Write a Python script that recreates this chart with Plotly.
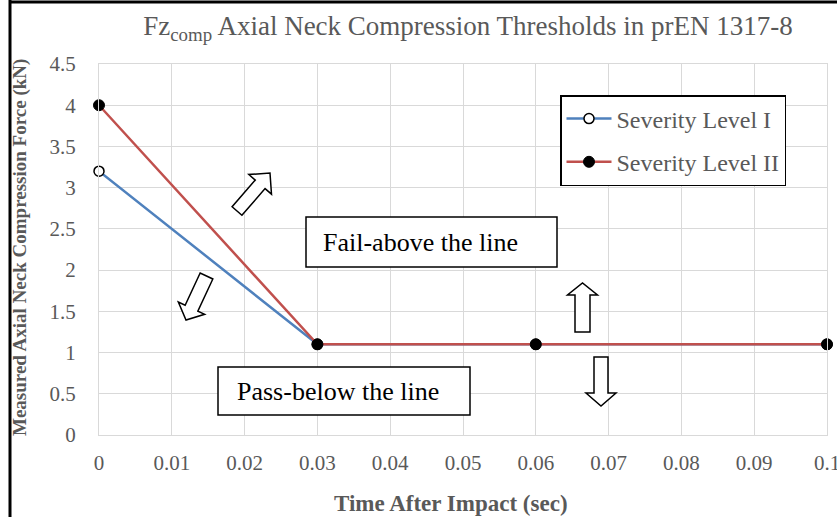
import math
import plotly.graph_objects as go

# ---- data ----
time_sec = [0, 0.03, 0.06, 0.1]
level1_force = [3.2, 1.1, 1.1, 1.1]
level2_force = [4.0, 1.1, 1.1, 1.1]
series_names = ["Severity Level I", "Severity Level II"]
title_text = "Fz<sub>comp</sub> Axial Neck Compression Thresholds in prEN 1317-8"
x_title = "Time After Impact (sec)"
y_title = "Measured Axial Neck Compression Force (kN)"
fail_text = "Fail-above the line"
pass_text = "Pass-below the line"

W, H = 837, 517
L, R, T, B = 99, 10, 64, 82
PW, PH = W - L - R, H - T - B

GRAY = "#595959"
SERIF = "Liberation Serif"


def px(xp):
    return (xp - L) / PW


def py(yp):
    return (H - B - yp) / PH


def block_arrow(tail, tip, shaft_w, head_w, head_len):
    dx, dy = tip[0] - tail[0], tip[1] - tail[1]
    ln = math.hypot(dx, dy)
    ux, uy = dx / ln, dy / ln
    nx, ny = -uy, ux
    bx, by = tip[0] - ux * head_len, tip[1] - uy * head_len
    pts = [
        (tail[0] + nx * shaft_w / 2, tail[1] + ny * shaft_w / 2),
        (bx + nx * shaft_w / 2, by + ny * shaft_w / 2),
        (bx + nx * head_w / 2, by + ny * head_w / 2),
        tip,
        (bx - nx * head_w / 2, by - ny * head_w / 2),
        (bx - nx * shaft_w / 2, by - ny * shaft_w / 2),
        (tail[0] - nx * shaft_w / 2, tail[1] - ny * shaft_w / 2),
    ]
    return "M " + " L ".join(f"{px(a):.5f},{py(b):.5f}" for a, b in pts) + " Z"


fig = go.Figure()
fig.add_trace(go.Scatter(
    x=time_sec, y=level1_force, name=series_names[0], legendgroup="g1",
    mode="lines+markers", line=dict(color="#4F81BD", width=2.5),
    marker=dict(symbol="circle", size=10, color="white", line=dict(color="black", width=1.5)),
    cliponaxis=False,
))
fig.add_trace(go.Scatter(
    x=time_sec, y=level2_force, name=series_names[1], legendgroup="g2",
    mode="lines+markers", line=dict(color="#C0504D", width=2.5),
    marker=dict(symbol="circle", size=11, color="black", line=dict(color="black", width=1)),
    cliponaxis=False,
))

shapes = []
# text boxes
for (x0, y0, x1, y1) in [(306, 217, 557, 267), (218, 367, 470, 415)]:
    shapes.append(dict(type="rect", xref="paper", yref="paper",
                       x0=px(x0), x1=px(x1), y0=py(y1), y1=py(y0),
                       line=dict(color="black", width=1.5), fillcolor="white", layer="above"))
# block arrows
arrows = [
    ((237, 211), (270, 173), 13, 30, 15),
    ((206.5, 276), (186, 320), 14, 29, 13),
    ((582.5, 332), (582.5, 283), 15, 30, 12),
    ((601, 357), (601, 406), 14, 30, 13),
]
for a in arrows:
    shapes.append(dict(type="path", xref="paper", yref="paper", path=block_arrow(*a),
                       line=dict(color="black", width=1.5), fillcolor="white", layer="above"))
# image frame lines
shapes.append(dict(type="line", xref="paper", yref="paper", x0=px(10), x1=px(10), y0=py(0), y1=py(H),
                   line=dict(color="black", width=3)))
shapes.append(dict(type="line", xref="paper", yref="paper", x0=px(10), x1=px(W), y0=py(2), y1=py(2),
                   line=dict(color="black", width=3)))

annotations = [
    dict(text=fail_text, xref="paper", yref="paper", x=px(321), y=py(242), xanchor="left", yanchor="middle",
         showarrow=False, font=dict(family=SERIF, size=26, color="black")),
    dict(text=pass_text, xref="paper", yref="paper", x=px(235), y=py(391), xanchor="left", yanchor="middle",
         showarrow=False, font=dict(family=SERIF, size=26, color="black")),
    dict(text=f"<b>{x_title}</b>", xref="paper", yref="paper", x=px(451), y=py(503), xanchor="center",
         yanchor="middle", showarrow=False, font=dict(family=SERIF, size=23, color=GRAY)),
    dict(text=f"<b>{y_title}</b>", xref="paper", yref="paper", x=px(20), y=py(248), xanchor="center",
         yanchor="middle", textangle=-90, showarrow=False, font=dict(family=SERIF, size=19, color=GRAY)),
]

fig.update_layout(
    width=W, height=H,
    margin=dict(l=L, r=R, t=T, b=B, autoexpand=False),
    paper_bgcolor="white", plot_bgcolor="white",
    title=dict(text=title_text, x=468 / W, xref="container", xanchor="center",
               y=1 - 26 / H, yref="container", yanchor="middle",
               font=dict(family=SERIF, size=27, color=GRAY)),
    xaxis=dict(range=[0, 0.1], dtick=0.01, tick0=0, showgrid=True, gridcolor="#D9D9D9", gridwidth=1,
               showline=True, linecolor="#D9D9D9", linewidth=1, mirror=True, zeroline=False,
               ticks="outside", ticklen=0, tickcolor="white", ticklabelstandoff=9,
               ticklabeloverflow="allow", automargin=False,
               tickfont=dict(family=SERIF, size=21, color=GRAY)),
    yaxis=dict(range=[0, 4.5], dtick=0.5, tick0=0, showgrid=True, gridcolor="#D9D9D9", gridwidth=1,
               showline=True, linecolor="#D9D9D9", linewidth=1, mirror=True, zeroline=False,
               ticks="outside", ticklen=0, tickcolor="white", ticklabelstandoff=18,
               automargin=False,
               tickfont=dict(family=SERIF, size=21, color=GRAY)),
    legend=dict(x=px(560), y=py(95), xanchor="left", yanchor="top",
                bgcolor="white", bordercolor="black", borderwidth=1.5,
                font=dict(family=SERIF, size=24, color=GRAY), tracegroupgap=9,
                itemwidth=45, traceorder="grouped"),
    shapes=shapes,
    annotations=annotations,
    showlegend=True,
)

fig.write_html("out.html", config={"displayModeBar": False},
               post_script="document.body.style.margin='0';document.body.style.overflow='hidden';")
